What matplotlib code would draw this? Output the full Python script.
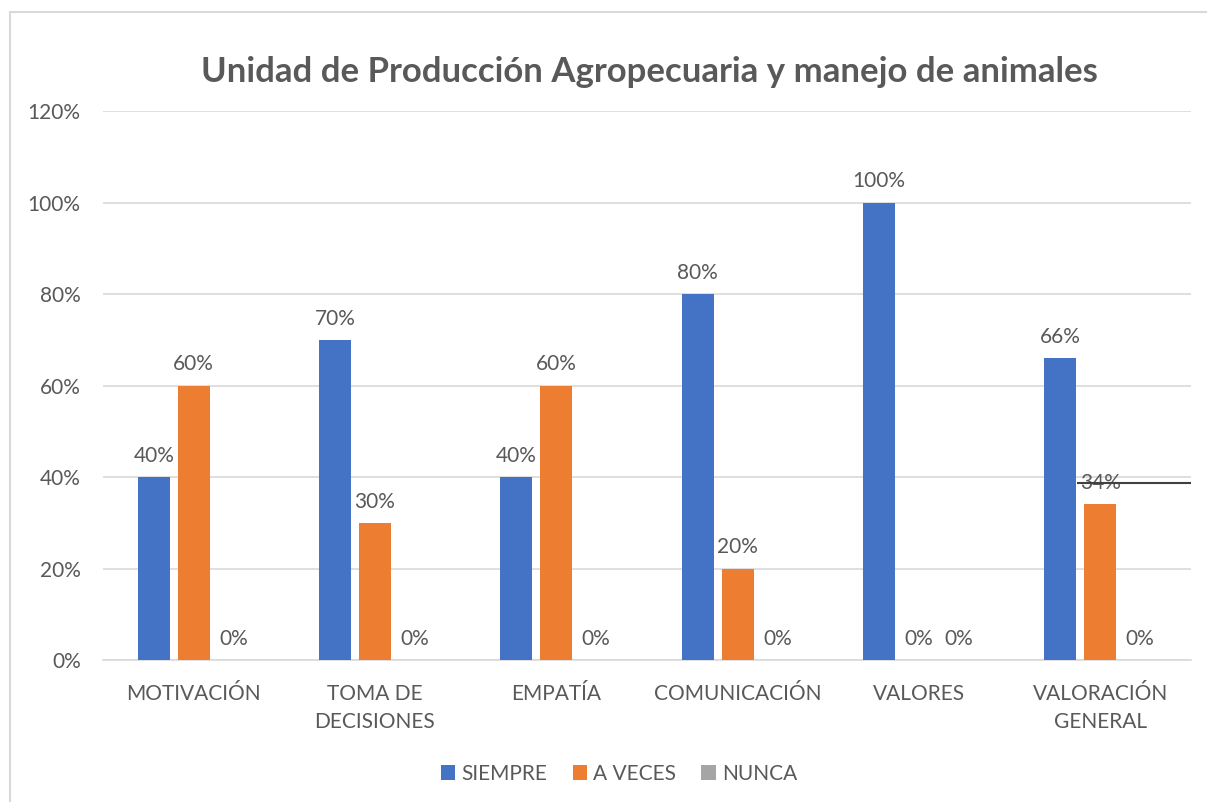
import matplotlib.pyplot as plt
import numpy as np
from matplotlib.lines import Line2D

# Data
categorias = ['MOTIVACIÓN', 'TOMA DE\nDECISIONES', 'EMPATÍA', 'COMUNICACIÓN', 'VALORES', 'VALORACIÓN\nGENERAL']
siempre = [0.40, 0.70, 0.40, 0.80, 1.00, 0.66]
a_veces = [0.60, 0.30, 0.60, 0.20, 0.00, 0.34]
nunca = [0.00, 0.00, 0.00, 0.00, 0.00, 0.00]
series = ['SIEMPRE', 'A VECES', 'NUNCA']
colores = ['#4472C4', '#ED7D31', '#A5A5A5']

# stray line in the original picture, near the last group
linea_y = 0.387
linea_x = (4.87, 5.5)

texto = '#595959'
plt.rcParams['font.family'] = ['Lato', 'DejaVu Sans']

fig = plt.figure(figsize=(12.07, 8.02), dpi=100)
ax = fig.add_axes([0.0853, 0.177, 0.9014, 0.6846])

x = np.arange(len(categorias))
ancho = 0.176
paso = 0.22
for i, (vals, nombre, col) in enumerate(zip([siempre, a_veces, nunca], series, colores)):
    pos = x + (i - 1) * paso
    barras = ax.bar(pos, vals, ancho, color=col, label=nombre, zorder=3)
    for b, v in zip(barras, vals):
        ax.annotate(f'{v * 100:.0f}%', (b.get_x() + b.get_width() / 2, v),
                    xytext=(0, 8), textcoords='offset points', ha='center', va='bottom',
                    fontsize=15, color=texto)

ax.hlines(linea_y, linea_x[0], linea_x[1], color='#404040', lw=1.5, zorder=5)

ax.set_xlim(-0.5, len(categorias) - 0.5)
ax.set_ylim(0, 1.2)
ax.set_yticks(np.arange(0, 1.21, 0.2))
ax.set_yticklabels([f'{t * 100:.0f}%' for t in np.arange(0, 1.21, 0.2)])
ax.set_xticks(x)
ax.set_xticklabels(categorias, linespacing=1.5)
ax.tick_params(axis='both', length=0, labelsize=15, colors=texto)
ax.tick_params(axis='x', pad=17)
ax.tick_params(axis='y', pad=16)
ax.grid(axis='y', color='#D9D9D9', lw=1.2, zorder=0)
for s in ['top', 'right', 'left']:
    ax.spines[s].set_visible(False)
ax.spines['bottom'].set_color('#D9D9D9')
ax.spines['bottom'].set_linewidth(1.2)

fig.text(0.538, 0.91, 'Unidad de Producción Agropecuaria y manejo de animales',
         ha='center', va='center', fontsize=25, fontweight='bold', color=texto)

leg = fig.legend(loc='center', bbox_to_anchor=(0.513, 0.035), ncol=3, frameon=False,
                 fontsize=15, handlelength=0.7, handleheight=0.7, handletextpad=0.3,
                 columnspacing=1.2, labelcolor=texto)

# chart frame (only left and top edges visible in the crop)
fig.add_artist(Line2D([10 / 1207, 10 / 1207], [0, 1 - 12 / 802], color='#D9D9D9', lw=1.5))
fig.add_artist(Line2D([10 / 1207, 1], [1 - 12 / 802, 1 - 12 / 802], color='#D9D9D9', lw=1.5))

fig.savefig('out.png', dpi=100)
